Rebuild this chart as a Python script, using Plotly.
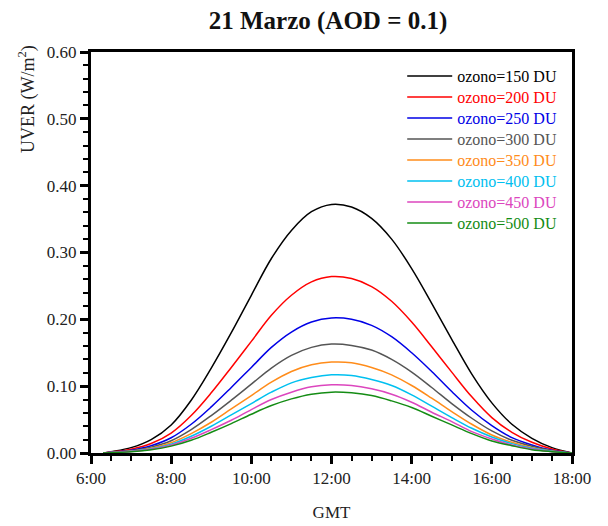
import plotly.graph_objects as go

hours = [6.3, 6.5, 7.0, 7.5, 8.0, 8.5, 9.0, 9.5, 10.0, 10.5, 11.0, 11.5, 12.0,
         12.5, 13.0, 13.5, 14.0, 14.5, 15.0, 15.5, 16.0, 16.5, 17.0, 17.5, 18.0]

uv_150 = [0.000, 0.002, 0.008, 0.020, 0.042, 0.079, 0.127, 0.180, 0.236, 0.291, 0.333, 0.361, 0.372,
          0.368, 0.351, 0.320, 0.276, 0.224, 0.170, 0.118, 0.075, 0.043, 0.022, 0.008, 0.000]
uv_200 = [0.000, 0.0014, 0.0057, 0.0142, 0.0298, 0.056, 0.090, 0.128, 0.167, 0.206, 0.236, 0.256, 0.264,
          0.261, 0.249, 0.227, 0.196, 0.159, 0.121, 0.084, 0.053, 0.031, 0.016, 0.006, 0.000]
uv_250 = [0.000, 0.0011, 0.0043, 0.0109, 0.0228, 0.043, 0.069, 0.098, 0.128, 0.158, 0.181, 0.196, 0.202,
          0.200, 0.191, 0.174, 0.150, 0.122, 0.092, 0.064, 0.041, 0.023, 0.012, 0.004, 0.000]
uv_300 = [0.000, 0.0009, 0.0035, 0.0088, 0.0184, 0.035, 0.056, 0.079, 0.103, 0.127, 0.146, 0.158, 0.163,
          0.161, 0.154, 0.140, 0.121, 0.098, 0.074, 0.052, 0.033, 0.019, 0.010, 0.0035, 0.000]
uv_350 = [0.000, 0.0007, 0.0029, 0.0073, 0.0154, 0.029, 0.046, 0.066, 0.086, 0.106, 0.122, 0.132, 0.136,
          0.135, 0.128, 0.117, 0.101, 0.082, 0.062, 0.043, 0.027, 0.016, 0.008, 0.003, 0.000]
uv_400 = [0.000, 0.0006, 0.0025, 0.0063, 0.0132, 0.025, 0.040, 0.057, 0.074, 0.091, 0.105, 0.113, 0.117,
          0.116, 0.110, 0.101, 0.087, 0.070, 0.053, 0.037, 0.024, 0.014, 0.007, 0.0025, 0.000]
uv_450 = [0.000, 0.0006, 0.0022, 0.0055, 0.0115, 0.022, 0.035, 0.049, 0.065, 0.080, 0.091, 0.099, 0.102,
          0.101, 0.096, 0.088, 0.076, 0.061, 0.047, 0.032, 0.021, 0.012, 0.006, 0.002, 0.000]
uv_500 = [0.000, 0.0005, 0.002, 0.0049, 0.0103, 0.019, 0.031, 0.044, 0.058, 0.071, 0.081, 0.088, 0.091,
          0.090, 0.086, 0.078, 0.068, 0.055, 0.042, 0.029, 0.018, 0.011, 0.005, 0.002, 0.000]

series_names = ["ozono=150 DU", "ozono=200 DU", "ozono=250 DU", "ozono=300 DU",
                "ozono=350 DU", "ozono=400 DU", "ozono=450 DU", "ozono=500 DU"]
series_values = [uv_150, uv_200, uv_250, uv_300, uv_350, uv_400, uv_450, uv_500]
colors = ["#000000", "#FF0000", "#0000E6", "#555555", "#FF8C1A", "#00C0F0", "#DC46BE", "#148C14"]

x_tickvals = [6, 8, 10, 12, 14, 16, 18]
x_ticktext = ["6:00", "8:00", "10:00", "12:00", "14:00", "16:00", "18:00"]

FONT = "'Liberation Serif', 'Times New Roman', serif"

PLOT_LEFT, PLOT_RIGHT, PLOT_TOP, PLOT_BOTTOM = 91, 572, 52, 453
fig = go.Figure()
legend_layouts = {}
for i, (name, vals, col) in enumerate(zip(series_names, series_values, colors)):
    key = "legend" if i == 0 else f"legend{i + 1}"
    fig.add_trace(go.Scatter(
        x=hours, y=vals, mode="lines",
        line=dict(color=col, width=1.5, shape="spline", smoothing=1.0),
        name=f'<span style="color:{col}">{name}</span>',
        legend=key,
    ))
    yc = 76 + 21 * i
    legend_layouts[key] = dict(
        x=0.647, y=(PLOT_BOTTOM - yc) / (PLOT_BOTTOM - PLOT_TOP), xanchor="left", yanchor="middle",
        bgcolor="rgba(0,0,0,0)", font=dict(size=16, family=FONT), itemwidth=45,
    )

fig.update_layout(
    width=608, height=526,
    margin=dict(l=PLOT_LEFT, r=608 - PLOT_RIGHT, t=PLOT_TOP, b=526 - PLOT_BOTTOM),
    paper_bgcolor="white", plot_bgcolor="white",
    font=dict(family=FONT, size=17, color="#222222"),
    title=dict(text="<b>21 Marzo (AOD = 0.1)</b>", x=328 / 608, xanchor="center",
               y=1 - 20 / 526, yanchor="middle", font=dict(size=25, color="#111111", family=FONT)),
    showlegend=True,
    annotations=[dict(
        text="UVER (W/m<sup>2</sup>)", textangle=-90, showarrow=False,
        xref="paper", yref="paper",
        x=(27 - PLOT_LEFT) / (PLOT_RIGHT - PLOT_LEFT),
        y=(PLOT_BOTTOM - 99) / (PLOT_BOTTOM - PLOT_TOP),
        xanchor="center", yanchor="middle",
        font=dict(size=18, family=FONT, color="#222222"),
    )],
    **legend_layouts,
)

fig.update_xaxes(
    range=[6, 18], tickvals=x_tickvals, ticktext=x_ticktext,
    showline=True, linewidth=3, linecolor="black", mirror=True,
    ticks="outside", ticklen=8, tickwidth=2.5, tickcolor="black",
    minor=dict(dtick=0.5, tick0=6, ticks="outside", ticklen=5, tickwidth=2, tickcolor="black"),
    showgrid=False, zeroline=False, automargin=False,
    title=dict(text="GMT", standoff=19, font=dict(size=17, family=FONT)),
    tickfont=dict(size=17, family=FONT, color="#222222"),
)
fig.update_yaxes(
    range=[0, 0.6], dtick=0.1, tick0=0, tickformat=".2f",
    showline=True, linewidth=3, linecolor="black", mirror=True,
    ticks="outside", ticklen=8, tickwidth=2.5, tickcolor="black",
    minor=dict(dtick=0.02, tick0=0, ticks="outside", ticklen=5, tickwidth=2, tickcolor="black"),
    showgrid=False, zeroline=False, automargin=False,
    tickfont=dict(size=17, family=FONT, color="#222222"),
)

fig.write_html("out.html")
